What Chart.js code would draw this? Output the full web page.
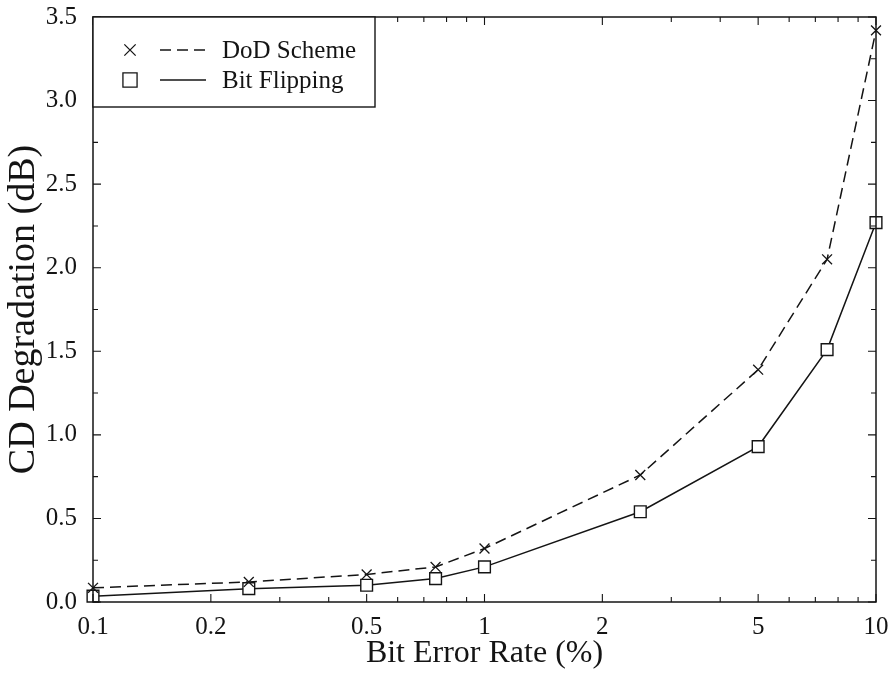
<!DOCTYPE html>
<html>
<head>
<meta charset="utf-8">
<title>CD Degradation vs Bit Error Rate</title>
<script src="https://cdn.jsdelivr.net/npm/chart.js@4/dist/chart.umd.min.js"></script>
<style>
  html, body { margin: 0; padding: 0; background: #fff; }
  #chart { display: block; }
</style>
</head>
<body>
<canvas id="chart" width="888" height="678"></canvas>
<script>
// Bit error rate (%) at which each scheme was measured
const bitErrorRates = [0.1, 0.25, 0.5, 0.75, 1, 2.5, 5, 7.5, 10];
// CD degradation in dB
const dodScheme = [0.085, 0.12, 0.165, 0.21, 0.32, 0.76, 1.39, 2.05, 3.42];
const bitFlipping = [0.035, 0.08, 0.10, 0.14, 0.21, 0.54, 0.93, 1.51, 2.27];

const seriesNames = ['DoD Scheme', 'Bit Flipping'];

const xTicks = [0.1, 0.2, 0.5, 1, 2, 5, 10];
const xTickLabels = ['0.1', '0.2', '0.5', '1', '2', '5', '10'];
const xMinorTicks = [0.3, 0.4, 0.6, 0.7, 0.8, 0.9, 3, 4, 6, 7, 8, 9];
const yTicks = [0, 0.5, 1.0, 1.5, 2.0, 2.5, 3.0, 3.5];
const yMinorTicks = [0.25, 0.75, 1.25, 1.75, 2.25, 2.75, 3.25];

const ink = '#141414';
const serif = "'Liberation Serif', 'DejaVu Serif', serif";

function toPoints(values) {
    return bitErrorRates.map((x, i) => ({ x: x, y: values[i] }));
}

// box around the plot with inward tick marks on all four sides, plus the legend
const framePlugin = {
    id: 'frame',
    afterDatasetsDraw(chart) {
        const ctx = chart.ctx;
        const area = chart.chartArea;
        const xs = chart.scales.x;
        const ys = chart.scales.y;

        ctx.save();
        ctx.strokeStyle = ink;
        ctx.lineWidth = 1.5;
        ctx.strokeRect(area.left, area.top, area.right - area.left, area.bottom - area.top);

        ctx.lineWidth = 1.1;
        ctx.beginPath();
        const xTick = (v, len) => {
            const px = xs.getPixelForValue(v);
            ctx.moveTo(px, area.bottom); ctx.lineTo(px, area.bottom - len);
            ctx.moveTo(px, area.top); ctx.lineTo(px, area.top + len);
        };
        const yTick = (v, len) => {
            const py = ys.getPixelForValue(v);
            ctx.moveTo(area.left, py); ctx.lineTo(area.left + len, py);
            ctx.moveTo(area.right, py); ctx.lineTo(area.right - len, py);
        };
        xTicks.forEach(v => xTick(v, 8));
        xMinorTicks.forEach(v => xTick(v, 5));
        yTicks.forEach(v => yTick(v, 8));
        yMinorTicks.forEach(v => yTick(v, 5));
        ctx.stroke();

        // legend
        const box = { left: area.left, top: area.top, right: 375, bottom: 107 };
        ctx.fillStyle = '#fff';
        ctx.fillRect(box.left, box.top, box.right - box.left, box.bottom - box.top);
        ctx.lineWidth = 1.4;
        ctx.strokeRect(box.left, box.top, box.right - box.left, box.bottom - box.top);

        const rows = [50, 80];
        chart.data.datasets.forEach((ds, i) => {
            const y = rows[i];
            ctx.strokeStyle = ink;
            ctx.fillStyle = '#fff';
            ctx.lineWidth = 1.3;
            ctx.setLineDash([]);
            Chart.helpers.drawPoint(ctx, {
                pointStyle: ds.pointStyle,
                radius: ds.pointStyle === 'rect' ? 10 : 8,
                rotation: 0,
                borderWidth: 1.3
            }, 130, y);

            ctx.beginPath();
            ctx.setLineDash(ds.borderDash || []);
            ctx.lineWidth = 1.3;
            ctx.moveTo(160, y);
            ctx.lineTo(206, y);
            ctx.stroke();
            ctx.setLineDash([]);

            ctx.fillStyle = ink;
            ctx.font = '25px ' + serif;
            ctx.textAlign = 'left';
            ctx.textBaseline = 'middle';
            ctx.fillText(ds.label, 222, y + 1);
        });
        ctx.restore();
    }
};

const ctx = document.getElementById('chart').getContext('2d');

new Chart(ctx, {
    type: 'line',
    data: {
        datasets: [
            {
                label: seriesNames[0],
                data: toPoints(dodScheme),
                borderColor: ink,
                backgroundColor: '#fff',
                borderWidth: 1.5,
                borderDash: [11, 6],
                pointStyle: 'crossRot',
                pointRadius: 7,
                pointBorderWidth: 1.3,
                pointBorderColor: ink,
                tension: 0,
                clip: false
            },
            {
                label: seriesNames[1],
                data: toPoints(bitFlipping),
                borderColor: ink,
                backgroundColor: '#fff',
                borderWidth: 1.5,
                pointStyle: 'rect',
                pointRadius: 8.3,
                pointBorderWidth: 1.4,
                pointBorderColor: ink,
                pointBackgroundColor: '#fff',
                tension: 0,
                clip: false
            }
        ]
    },
    options: {
        responsive: false,
        animation: false,
        layout: { padding: { top: 17, right: 12, left: 0, bottom: 0 } },
        plugins: {
            legend: { display: false },
            tooltip: { enabled: false }
        },
        scales: {
            x: {
                type: 'logarithmic',
                min: 0.1,
                max: 10,
                afterBuildTicks: scale => {
                    scale.ticks = xTicks.map(v => ({ value: v }));
                },
                afterFit: scale => {
                    scale.height = 76;
                    scale.paddingLeft = 0;
                    scale.paddingRight = 0;
                },
                grid: { display: false, drawTicks: false },
                border: { display: false },
                ticks: {
                    autoSkip: false,
                    maxRotation: 0,
                    padding: 10,
                    color: ink,
                    font: { family: serif, size: 25 },
                    callback: value => {
                        const i = xTicks.indexOf(value);
                        return i >= 0 ? xTickLabels[i] : '';
                    }
                },
                title: {
                    display: true,
                    text: 'Bit Error Rate (%)',
                    color: ink,
                    font: { family: serif, size: 32 },
                    padding: { top: 0, bottom: 5 }
                }
            },
            y: {
                min: 0,
                max: 3.5,
                afterBuildTicks: scale => {
                    scale.ticks = yTicks.map(v => ({ value: v }));
                },
                afterFit: scale => {
                    scale.width = 93;
                    scale.paddingTop = 0;
                    scale.paddingBottom = 0;
                },
                grid: { display: false, drawTicks: false },
                border: { display: false },
                ticks: {
                    padding: 16,
                    color: ink,
                    font: { family: serif, size: 25 },
                    callback: value => Number(value).toFixed(1)
                },
                title: {
                    display: true,
                    text: 'CD Degradation (dB)',
                    color: ink,
                    font: { family: serif, size: 38 },
                    padding: { top: 1, bottom: 0 }
                }
            }
        }
    },
    plugins: [framePlugin]
});
</script>
</body>
</html>
